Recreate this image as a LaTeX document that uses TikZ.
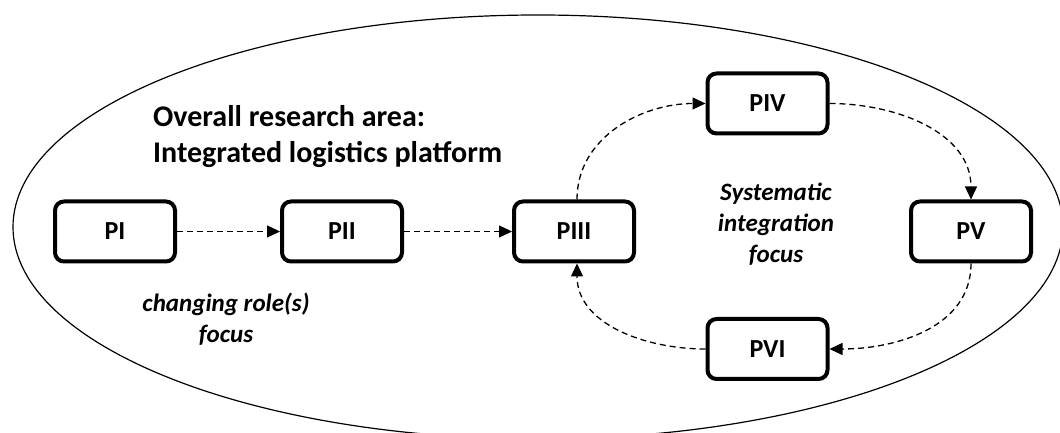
\documentclass[tikz,border=0pt]{standalone}
\usepackage{fontspec}
\setmainfont{Carlito}
\usetikzlibrary{arrows.meta}
\tikzset{
  pbox/.style={draw=black, line width=4pt, rounded corners=9pt, minimum width=120pt, minimum height=60pt, inner sep=0pt, font=\bfseries\fontsize{26}{30}\selectfont},
  flow/.style={draw=black, line width=1.3pt, dash pattern=on 6pt off 4pt, -{Triangle[length=13pt,width=12pt]}},
  focus/.style={align=center, inner sep=0pt, font=\bfseries\itshape\fontsize{25}{31}\selectfont},
}
\begin{document}
\begin{tikzpicture}[x=1pt,y=1pt]
\useasboundingbox (0,0) rectangle (1060,433);
\clip (0,0) rectangle (1060,433);
\fill[white] (0,0) rectangle (1060,433);
\draw[line width=1.2pt] (538,206) ellipse [x radius=525pt, y radius=212pt];
\node[anchor=north west, align=left, inner sep=0pt, font=\bfseries\fontsize{30}{36}\selectfont] (title) at (153,328) {Overall research area:\\Integrated logistics platform};
\node[pbox] (p1) at (115,201.5) {PI};
\node[pbox] (p2) at (342,201.5) {PII};
\node[pbox] (p3) at (574,201.5) {PIII};
\node[pbox] (p4) at (767.5,329.5) {PIV};
\node[pbox] (p5) at (971,201.5) {PV};
\node[pbox] (p6) at (767.5,84) {PVI};
\node[focus, anchor=north] (f1) at (226,140) {changing role(s)\\focus};
\node[focus, anchor=north] (f2) at (776,250) {Systematic\\integration\\focus};
\draw[flow] (p1) -- (p2);
\draw[flow] (p2) -- (p3);
\draw[flow] ([xshift=3pt]p3.north) to[out=90,in=180] (p4.west);
\draw[flow] (p4.east) to[out=0,in=90] (p5.north);
\draw[flow] (p5.south) to[out=-90,in=0] (p6.east);
\draw[flow] (p6.west) to[out=180,in=-90] ([xshift=3pt]p3.south);
\end{tikzpicture}
\end{document}
